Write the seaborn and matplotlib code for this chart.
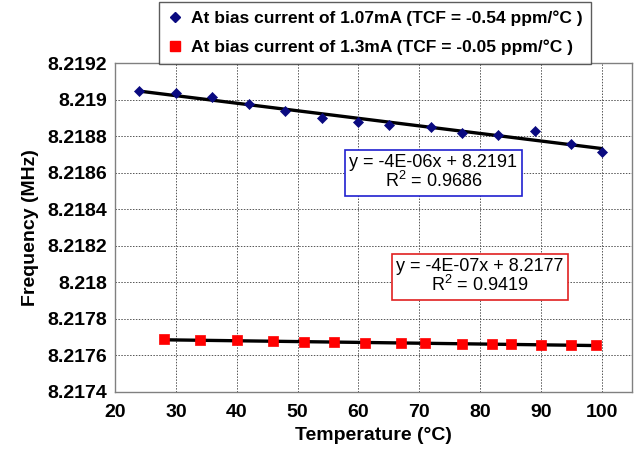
import matplotlib
matplotlib.use("Agg")
import matplotlib.pyplot as plt
import seaborn as sns
import pandas as pd
from matplotlib.lines import Line2D

# Measured oscillator frequency vs temperature at two bias currents
temp_107 = [24, 30, 36, 42, 48, 54, 60, 65, 72, 77, 83, 89, 95, 100]
freq_107 = [8.219047, 8.219038, 8.219015, 8.218975, 8.218936, 8.218900, 8.218878,
            8.218864, 8.218851, 8.218818, 8.218805, 8.218827, 8.218756, 8.218715]

temp_13 = [28, 34, 40, 46, 51, 56, 61, 67, 71, 77, 82, 85, 90, 95, 99]
freq_13 = [8.2176873, 8.2176855, 8.2176818, 8.2176782, 8.2176727, 8.2176709, 8.2176673,
           8.2176655, 8.2176655, 8.2176618, 8.2176618, 8.2176600, 8.2176582, 8.2176582,
           8.2176564]

label_107 = "At bias current of 1.07mA (TCF = -0.54 ppm/°C )"
label_13 = "At bias current of 1.3mA (TCF = -0.05 ppm/°C )"
fit_107 = "y = -4E-06x + 8.2191\nR$^{2}$ = 0.9686"
fit_13 = "y = -4E-07x + 8.2177\nR$^{2}$ = 0.9419"

x_ticks = [20, 30, 40, 50, 60, 70, 80, 90, 100]
y_ticks = [8.2174, 8.2176, 8.2178, 8.218, 8.2182, 8.2184, 8.2186, 8.2188, 8.219, 8.2192]
y_tick_labels = ["8.2174", "8.2176", "8.2178", "8.218", "8.2182", "8.2184",
                 "8.2186", "8.2188", "8.219", "8.2192"]

df_107 = pd.DataFrame({"Temperature": temp_107, "Frequency": freq_107})
df_13 = pd.DataFrame({"Temperature": temp_13, "Frequency": freq_13})

sns.set_theme(style="white")
plt.rcParams["font.family"] = ["Liberation Sans", "DejaVu Sans"]
plt.rcParams["mathtext.fontset"] = "custom"
plt.rcParams["mathtext.rm"] = "Liberation Sans"
plt.rcParams["mathtext.it"] = "Liberation Sans:italic"
plt.rcParams["text.color"] = "black"
plt.rcParams["axes.labelcolor"] = "black"
plt.rcParams["xtick.color"] = "black"
plt.rcParams["ytick.color"] = "black"

fig = plt.figure(figsize=(6.36, 4.51), dpi=100)
ax = fig.add_axes([0.181, 0.131, 0.813, 0.729])

blue = "#0a0a80"
red = "#ff0000"

# Linear trendlines over each data range
sns.regplot(data=df_107, x="Temperature", y="Frequency", ax=ax, scatter=False,
            ci=None, color="black", line_kws={"linewidth": 2.4, "zorder": 2})
sns.regplot(data=df_13, x="Temperature", y="Frequency", ax=ax, scatter=False,
            ci=None, color="black", line_kws={"linewidth": 2.4, "zorder": 2})

sns.scatterplot(data=df_107, x="Temperature", y="Frequency", ax=ax, marker="D",
                s=26, color=blue, edgecolor=blue, linewidth=0.5, zorder=3)
sns.scatterplot(data=df_13, x="Temperature", y="Frequency", ax=ax, marker="s",
                s=45, color=red, edgecolor=red, linewidth=0.5, zorder=3)

ax.set_xlim(20, 105)
ax.set_ylim(8.2174, 8.2192)
ax.set_xticks(x_ticks)
ax.set_xticklabels([str(t) for t in x_ticks])
ax.set_yticks(y_ticks)
ax.set_yticklabels(y_tick_labels)
ax.tick_params(axis="both", labelsize=14, direction="out", length=4, width=0.8,
               color="#777777", labelcolor="black")
ax.tick_params(axis="x", pad=5)
ax.tick_params(axis="y", pad=2)
for lbl in ax.get_xticklabels() + ax.get_yticklabels():
    lbl.set_fontweight("bold")

ax.grid(True, linestyle=(0, (1.5, 1.5)), color="#555555", linewidth=0.7)
for sp in ax.spines.values():
    sp.set_color("#808080")
    sp.set_linewidth(1.0)

ax.set_xlabel("Temperature (°C)", fontsize=14, fontweight="bold", labelpad=4)
ax.set_ylabel("Frequency (MHz)", fontsize=14, fontweight="bold", labelpad=6)

# Trendline equation boxes
ax.text(72.3, 8.21860, fit_107, ha="center", va="center", fontsize=13,
        linespacing=1.0,
        bbox=dict(boxstyle="square,pad=0.25", facecolor="white", edgecolor="#2020d0",
                  linewidth=1.2), zorder=4)
ax.text(80.0, 8.21803, fit_13, ha="center", va="center", fontsize=13,
        linespacing=1.0,
        bbox=dict(boxstyle="square,pad=0.25", facecolor="white", edgecolor="#e02020",
                  linewidth=1.2), zorder=4)

handles = [
    Line2D([], [], marker="D", linestyle="none", markersize=5, color=blue),
    Line2D([], [], marker="s", linestyle="none", markersize=7, color=red),
]
leg = fig.legend(handles, [label_107, label_13], loc="upper center",
                 bbox_to_anchor=(0.59, 0.995), frameon=True, fancybox=False,
                 prop={"size": 12.5, "weight": "bold"}, handlelength=0.8,
                 handletextpad=0.5, borderpad=0.5, labelspacing=0.75,
                 borderaxespad=0.0)
leg.get_frame().set_edgecolor("#333333")
leg.get_frame().set_linewidth(1.0)

fig.savefig("out.png", dpi=100)
